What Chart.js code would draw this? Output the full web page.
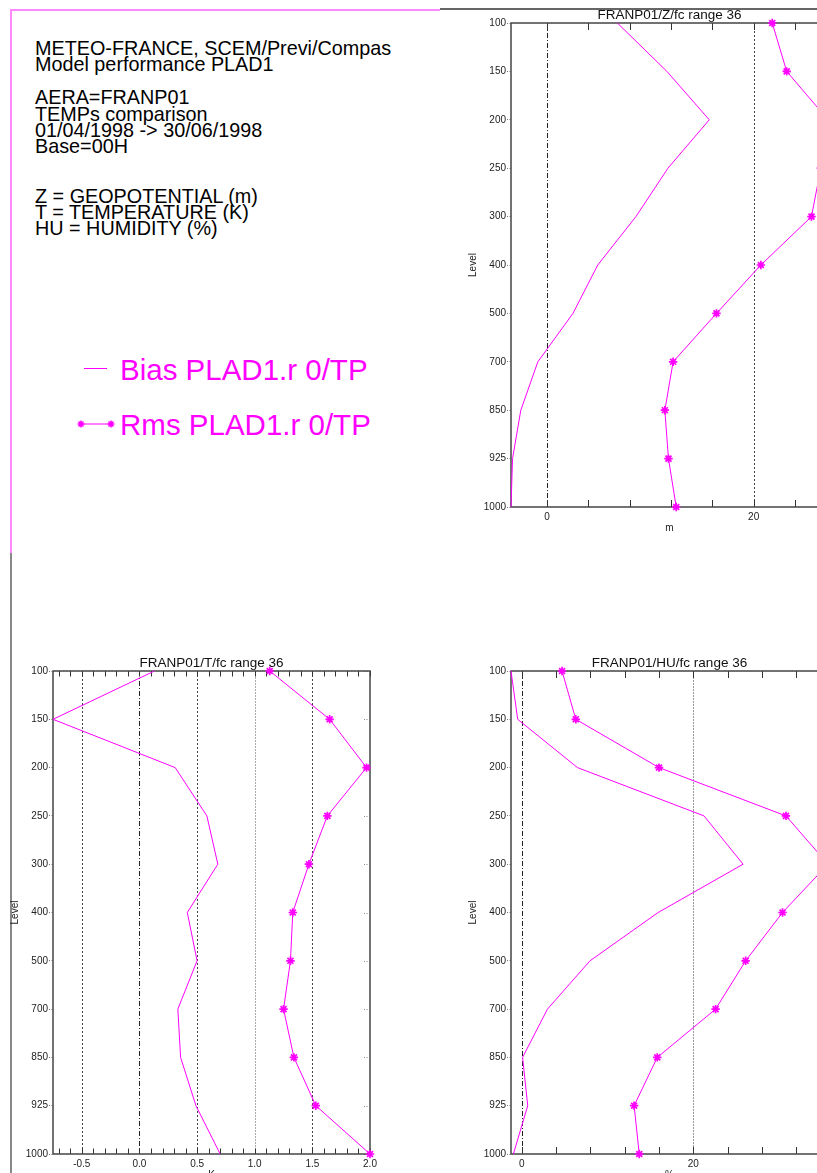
<!DOCTYPE html>
<html>
<head>
<meta charset="utf-8">
<script src="https://cdn.jsdelivr.net/npm/chart.js@4.4.1/dist/chart.umd.min.js"></script>
<style>
  html, body { margin: 0; padding: 0; background: #fff; }
  body { position: relative; width: 817px; height: 1173px; overflow: hidden;
         font-family: "Liberation Sans", Arial, sans-serif; }
  canvas { position: absolute; }
  .rule { position: absolute; }
  .txt { position: absolute; white-space: pre; }
  #header { left: 35px; top: 40px; font-size: 19.8px; line-height: 16.4px; color: #000; }
  .leg { left: 120px; font-size: 29.5px; line-height: 29.5px; color: #ff00ff; }
  svg { position: absolute; left: 0; top: 0; }
</style>
</head>
<body>

<!-- panel rules -->
<div class="rule" style="left:10px;top:9px;width:430px;height:2px;background:#ff88ff;"></div>
<div class="rule" style="left:10px;top:9px;width:2px;height:544px;background:#ff88ff;"></div>
<div class="rule" style="left:10px;top:553px;width:2px;height:620px;background:#888;"></div>
<div class="rule" style="left:440px;top:8px;width:377px;height:2px;background:#666;"></div>

<div id="header" class="txt">METEO-FRANCE, SCEM/Previ/Compas
Model performance PLAD1

AERA=FRANP01
TEMPs comparison
01/04/1998 -&gt; 30/06/1998
Base=00H


Z = GEOPOTENTIAL (m)
T = TEMPERATURE (K)
HU = HUMIDITY (%)</div>

<svg width="130" height="440">
  <line x1="84" y1="368.5" x2="107" y2="368.5" stroke="#ff00ff" stroke-width="1"/>
  <line x1="81" y1="424" x2="111" y2="424" stroke="#ff00ff" stroke-width="1"/>
  <g stroke="#ff00ff" stroke-width="1.6">
    <path d="M77.5 424h7M81 420.5v7M78.5 421.5l5 5M83.5 421.5l-5 5"/>
    <path d="M107.5 424h7M111 420.5v7M108.5 421.5l5 5M113.5 421.5l-5 5"/>
  </g>
</svg>
<div class="txt leg" style="top:355px;">Bias PLAD1.r 0/TP</div>
<div class="txt leg" style="top:410px;">Rms PLAD1.r 0/TP</div>

<canvas id="cz" width="400" height="545" style="left:440px;top:0px;"></canvas>
<canvas id="ct" width="400" height="560" style="left:0px;top:640px;"></canvas>
<canvas id="chu" width="400" height="560" style="left:440px;top:640px;"></canvas>

<script>
// Pressure levels (hPa), top of the profile first
const levels = ['100', '150', '200', '250', '300', '400', '500', '700', '850', '925', '1000'];

// Geopotential (m)
const zBias = [6.8, 11.6, 15.7, 11.7, 8.6, 4.9, 2.5, -0.9, -2.55, -3.35, -3.5];
const zRms  = [21.8, 23.2, 27.2, 26.5, 25.6, 20.7, 16.4, 12.2, 11.4, 11.75, 12.5];

// Temperature (K)
const tBias = [0.13, -0.75, 0.31, 0.585, 0.68, 0.415, 0.50, 0.333, 0.357, 0.49, 0.70];
const tRms  = [1.13, 1.65, 1.97, 1.63, 1.47, 1.33, 1.31, 1.25, 1.34, 1.53, 2.0];

// Humidity (%)
const huBias = [-1.25, -0.47, 6.5, 21.25, 25.8, 15.9, 7.96, 3.0, 0.1, 0.7, -0.97];
const huRms  = [4.7, 6.3, 16.0, 30.8, 35.7, 30.4, 26.1, 22.6, 15.8, 13.1, 13.7];

// Labelled x ticks of each panel
const zLabelTicks = [0, 20];
const tLabelTicks = [-0.5, 0.0, 0.5, 1.0, 1.5, 2.0];
const huLabelTicks = [0, 20];

const MAGENTA = '#ff00ff';
const FONT = '"Liberation Sans", Arial, sans-serif';
const DASHDOT = [5, 2, 1, 2];
const DOT = [2, 2];

// Frame, reference lines, inner tick marks and panel texts
const panelDecor = {
  id: 'panelDecor',
  beforeDatasetsDraw(chart, args, o) {
    const { ctx, chartArea: a, scales: { x, y } } = chart;
    ctx.save();
    ctx.lineWidth = 1;
    o.lines.forEach(l => {
      const px = Math.round(x.getPixelForValue(l.value)) + 0.5;
      ctx.beginPath();
      ctx.setLineDash(l.dash);
      ctx.strokeStyle = l.color;
      ctx.lineWidth = l.width || 1;
      ctx.moveTo(px, a.top);
      ctx.lineTo(px, a.bottom);
      ctx.stroke();
    });
    ctx.setLineDash([]);
    ctx.strokeStyle = '#333';
    ctx.lineWidth = 1;
    const first = Math.ceil(x.min / o.minorStep - 1e-9);
    const last = Math.floor(x.max / o.minorStep + 1e-9);
    for (let k = first; k <= last; k++) {
      const px = Math.round(x.getPixelForValue(k * o.minorStep)) + 0.5;
      ctx.beginPath();
      ctx.moveTo(px, a.top); ctx.lineTo(px, a.top + o.tickLen);
      ctx.moveTo(px, a.bottom); ctx.lineTo(px, a.bottom - o.tickLen);
      ctx.stroke();
    }
    ctx.setLineDash([1, 1.5]);
    ctx.strokeStyle = '#888';
    y.ticks.forEach((t, i) => {
      const py = Math.round(y.getPixelForTick(i)) + 0.5;
      ctx.beginPath();
      ctx.moveTo(a.right - 6, py); ctx.lineTo(a.right - 1, py);
      ctx.stroke();
    });
    ctx.setLineDash([]);
    ctx.strokeStyle = '#444';
    ctx.lineWidth = 1.5;
    ctx.strokeRect(a.left, a.top, a.right - a.left, a.bottom - a.top);
    ctx.restore();
  },
  afterDraw(chart, args, o) {
    const { ctx, chartArea: a } = chart;
    const cx = (a.left + a.right) / 2;
    ctx.save();
    ctx.fillStyle = '#111';
    ctx.textAlign = 'center';
    ctx.textBaseline = 'alphabetic';
    ctx.font = '13.5px ' + FONT;
    ctx.fillText(o.title, cx, a.top - 4);
    ctx.font = '10px ' + FONT;
    ctx.fillStyle = '#222';
    ctx.textBaseline = 'middle';
    ctx.fillText(o.unit, cx, a.bottom + 21);
    ctx.translate(a.left - 38, (a.top + a.bottom) / 2);
    ctx.rotate(-Math.PI / 2);
    ctx.fillText('Level', 0, 0);
    ctx.restore();
  }
};

function profileChart(id, cfg) {
  const canvas = document.getElementById(id);
  const W = canvas.width, H = canvas.height;
  return new Chart(canvas, {
    type: 'line',
    data: {
      labels: levels,
      datasets: [
        { label: 'Bias PLAD1.r 0/TP', data: cfg.bias, borderColor: MAGENTA, borderWidth: 1,
          pointRadius: 0, tension: 0, fill: false },
        { label: 'Rms PLAD1.r 0/TP', data: cfg.rms, borderColor: MAGENTA, borderWidth: 1,
          pointStyle: 'star', pointRadius: 4.2, pointBorderWidth: 1.7,
          pointBackgroundColor: MAGENTA, pointBorderColor: MAGENTA, tension: 0, fill: false }
      ]
    },
    options: {
      indexAxis: 'y',
      responsive: false,
      animation: false,
      devicePixelRatio: 1,
      clip: false,
      layout: { padding: { left: 0, top: cfg.area.top, right: W - cfg.area.right, bottom: 0 } },
      scales: {
        x: {
          type: 'linear',
          position: 'bottom',
          min: cfg.min,
          max: cfg.max,
          afterBuildTicks: s => { s.ticks = cfg.labelTicks.map(v => ({ value: v })); },
          afterFit: s => { s.height = H - cfg.area.bottom; s.paddingLeft = 0; s.paddingRight = 0; },
          grid: { display: false, drawTicks: false },
          border: { display: false },
          ticks: {
            autoSkip: false, maxRotation: 0, padding: 4,
            color: '#222', font: { family: FONT, size: 10 },
            callback: v => cfg.fmt(v)
          }
        },
        y: {
          type: 'category',
          offset: false,
          afterFit: s => { s.width = cfg.area.left; s.paddingTop = 0; s.paddingBottom = 0; },
          grid: { display: true, drawOnChartArea: false, drawTicks: true, tickLength: 4,
                  tickColor: '#777', tickWidth: 1, tickBorderDash: [1, 1.5] },
          border: { display: false },
          ticks: { autoSkip: false, padding: 1, color: '#222', font: { family: FONT, size: 10 } }
        }
      },
      plugins: {
        legend: { display: false },
        tooltip: { enabled: false },
        title: { display: false },
        panelDecor: {
          title: cfg.title, unit: cfg.unit, lines: cfg.lines,
          minorStep: cfg.minorStep, tickLen: cfg.tickLen
        }
      }
    },
    plugins: [panelDecor]
  });
}

profileChart('cz', {
  title: 'FRANP01/Z/fc range 36', unit: 'm',
  bias: zBias, rms: zRms,
  min: -3.5, max: 27.2, labelTicks: zLabelTicks, fmt: v => String(v),
  minorStep: 4, tickLen: 7,
  area: { left: 71, top: 23, right: 388, bottom: 507 },
  lines: [
    { value: 0, dash: DASHDOT, color: '#222' },
    { value: 20, dash: DOT, color: '#444' }
  ]
});

profileChart('ct', {
  title: 'FRANP01/T/fc range 36', unit: 'K',
  bias: tBias, rms: tRms,
  min: -0.75, max: 2.0, labelTicks: tLabelTicks, fmt: v => v.toFixed(1),
  minorStep: 0.1, tickLen: 5.5,
  area: { left: 53, top: 31, right: 370, bottom: 514 },
  lines: [
    { value: -0.5, dash: DOT, color: '#444' },
    { value: 0, dash: DASHDOT, color: '#222' },
    { value: 0.5, dash: DOT, color: '#444' },
    { value: 1.0, dash: [2, 1], color: '#aaa' },
    { value: 1.5, dash: DOT, color: '#444' }
  ]
});

profileChart('chu', {
  title: 'FRANP01/HU/fc range 36', unit: '%',
  bias: huBias, rms: huRms,
  min: -1.25, max: 35.7, labelTicks: huLabelTicks, fmt: v => String(v),
  minorStep: 4, tickLen: 7,
  area: { left: 71, top: 31, right: 388, bottom: 514 },
  lines: [
    { value: 0, dash: DASHDOT, color: '#222' },
    { value: 20, dash: [2, 1], color: '#999' }
  ]
});
</script>
</body>
</html>
